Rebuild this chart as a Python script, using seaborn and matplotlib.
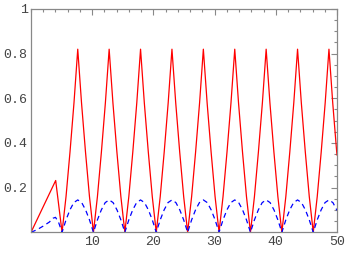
import matplotlib
matplotlib.use('Agg')
import matplotlib.pyplot as plt
import seaborn as sns

red_x = [0, 4.03, 5.07,
         5.72, 6.37, 7.02, 7.635, 8.25, 8.90, 9.55, 10.20,
         10.85, 11.50, 12.15, 12.765, 13.38, 14.03, 14.68, 15.33,
         15.98, 16.63, 17.28, 17.895, 18.51, 19.16, 19.81, 20.46,
         21.11, 21.76, 22.41, 23.025, 23.64, 24.29, 24.94, 25.59,
         26.24, 26.89, 27.54, 28.155, 28.77, 29.42, 30.07, 30.72,
         31.37, 32.02, 32.67, 33.285, 33.90, 34.55, 35.20, 35.85,
         36.50, 37.15, 37.80, 38.415, 39.03, 39.68, 40.33, 40.98,
         41.63, 42.28, 42.93, 43.545, 44.16, 44.81, 45.46, 46.11,
         46.76, 47.41, 48.06, 48.675, 49.29, 49.94, 50.0]
red_y = [0, 0.232, 0,
         0.16, 0.36, 0.58, 0.82, 0.58, 0.36, 0.16, 0,
         0.16, 0.36, 0.58, 0.82, 0.58, 0.36, 0.16, 0,
         0.16, 0.36, 0.58, 0.82, 0.58, 0.36, 0.16, 0,
         0.16, 0.36, 0.58, 0.82, 0.58, 0.36, 0.16, 0,
         0.16, 0.36, 0.58, 0.82, 0.58, 0.36, 0.16, 0,
         0.16, 0.36, 0.58, 0.82, 0.58, 0.36, 0.16, 0,
         0.16, 0.36, 0.58, 0.82, 0.58, 0.36, 0.16, 0,
         0.16, 0.36, 0.58, 0.82, 0.58, 0.36, 0.16, 0,
         0.16, 0.36, 0.58, 0.82, 0.58, 0.36, 0.345]

# blue curve (dashed)
blue_x = [0, 1.0, 2.0, 3.0, 3.6, 4.0, 4.5, 5.07,
          5.71, 6.35, 6.99, 7.635, 8.28, 8.92, 9.56, 10.20,
          10.84, 11.48, 12.12, 12.765, 13.41, 14.05, 14.69, 15.33,
          15.97, 16.61, 17.25, 17.895, 18.54, 19.18, 19.82, 20.46,
          21.10, 21.74, 22.38, 23.025, 23.67, 24.31, 24.95, 25.59,
          26.23, 26.87, 27.51, 28.155, 28.80, 29.44, 30.08, 30.72,
          31.36, 32.00, 32.64, 33.285, 33.93, 34.57, 35.21, 35.85,
          36.49, 37.13, 37.77, 38.415, 39.06, 39.70, 40.34, 40.98,
          41.62, 42.26, 42.90, 43.545, 44.19, 44.83, 45.47, 46.11,
          46.75, 47.39, 48.03, 48.675, 49.32, 49.96, 50.0]
blue_y = [0, 0.012, 0.028, 0.046, 0.063, 0.067, 0.045, 0,
          0.055, 0.10, 0.133, 0.145, 0.133, 0.10, 0.055, 0,
          0.055, 0.10, 0.133, 0.145, 0.133, 0.10, 0.055, 0,
          0.055, 0.10, 0.133, 0.145, 0.133, 0.10, 0.055, 0,
          0.055, 0.10, 0.133, 0.145, 0.133, 0.10, 0.055, 0,
          0.055, 0.10, 0.133, 0.145, 0.133, 0.10, 0.055, 0,
          0.055, 0.10, 0.133, 0.145, 0.133, 0.10, 0.055, 0,
          0.055, 0.10, 0.133, 0.145, 0.133, 0.10, 0.055, 0,
          0.055, 0.10, 0.133, 0.145, 0.133, 0.10, 0.055, 0,
          0.055, 0.10, 0.133, 0.145, 0.133, 0.10, 0.098]

x_ticks = [10, 20, 30, 40, 50]
x_labels = ['10', '20', '30', '40', '50']
y_ticks = [0.2, 0.4, 0.6, 0.8, 1.0]
y_labels = ['0.2', '0.4', '0.6', '0.8', '1']

sns.set_style('white')
plt.rcParams['font.family'] = ['Liberation Mono', 'DejaVu Sans Mono']

fig = plt.figure(figsize=(3.45, 2.54), dpi=100)
ax = fig.add_axes([0.0899, 0.0854, 0.8871, 0.8792])

sns.lineplot(x=red_x, y=red_y, color='#ff0000', linewidth=0.9, ax=ax,
             estimator=None, sort=False)
sns.lineplot(x=blue_x, y=blue_y, color='#0000ff', linewidth=0.9, ax=ax,
             estimator=None, sort=False, linestyle=(0, (4, 3)))

ax.set_xlim(0, 50)
ax.set_ylim(0, 1)
ax.set_xticks(x_ticks)
ax.set_xticklabels(x_labels)
ax.set_yticks(y_ticks)
ax.set_yticklabels(y_labels)
ax.set_xticks(list(range(0, 51, 2)), minor=True)
ax.set_yticks([i * 0.05 for i in range(21)], minor=True)

for s in ax.spines.values():
    s.set_color('#888888')
    s.set_linewidth(0.9)

ax.tick_params(which='both', direction='in', top=True, right=True,
               color='#888888', width=0.8)
ax.tick_params(which='major', length=4, pad=2.5, labelsize=9.5,
               labelcolor='#444444')
ax.tick_params(which='minor', length=2)

fig.savefig('out.png', dpi=100)
